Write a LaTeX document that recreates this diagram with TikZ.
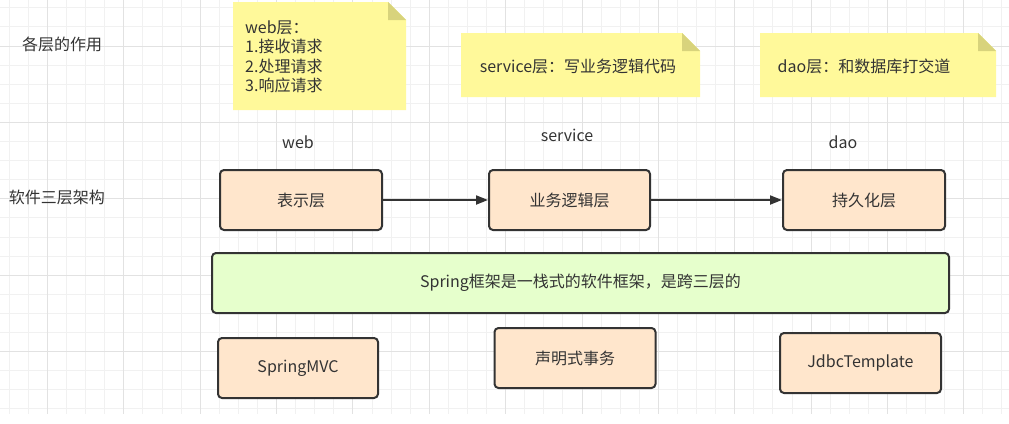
\documentclass[tikz,border=0pt]{standalone}
\usepackage{fontspec}
\setmainfont{Noto Sans CJK SC}
\usetikzlibrary{arrows.meta}
\definecolor{txt}{HTML}{333333}
\definecolor{edge}{HTML}{333333}
\definecolor{gridminor}{HTML}{F1F1F1}
\definecolor{gridmajor}{HTML}{E2E2E2}
\definecolor{notefill}{HTML}{FFF99A}
\definecolor{foldfill}{HTML}{D8D37C}
\definecolor{peach}{HTML}{FFE6CC}
\definecolor{lime}{HTML}{E6FFCC}
\tikzset{
  lbl/.style={inner sep=0pt, text=txt, font=\fontsize{16}{19.5}\selectfont},
  layerbox/.style={draw=edge, line width=2pt, rounded corners=4pt, fill=peach,
    text=txt, font=\fontsize{16}{19.5}\selectfont, inner sep=0pt},
  springbox/.style={layerbox, fill=lime},
  arr/.style={draw=edge, line width=2pt, -{Triangle[length=12pt,width=9pt]}},
  gminor/.style={draw=gridminor, line width=1pt},
  gmajor/.style={draw=gridmajor, line width=1pt},
}
\begin{document}
\begin{tikzpicture}[x=1pt,y=-1pt]
\useasboundingbox (0,0) rectangle (1009,423);
% grid
\foreach \k in {0,...,52} \draw[gminor] ({9.3+19.09*\k},0) -- ({9.3+19.09*\k},414);
\foreach \m in {0,...,21} \draw[gminor] (0,{7.8+19.1*\m}) -- (1009,{7.8+19.1*\m});
\foreach \k in {2,6,...,50} \draw[gmajor] ({9.3+19.09*\k},0) -- ({9.3+19.09*\k},414);
\foreach \m in {2,6,...,18} \draw[gmajor] (0,{7.8+19.1*\m}) -- (1009,{7.8+19.1*\m});
% notes
\fill[notefill] (233,2) -- (388,2) -- (406,20) -- (406,110) -- (233,110) -- cycle;
\fill[foldfill] (388,2) -- (388,20) -- (406,20) -- cycle;
\fill[notefill] (461,33) -- (682,33) -- (700,51) -- (700,97) -- (461,97) -- cycle;
\fill[foldfill] (682,33) -- (682,51) -- (700,51) -- cycle;
\fill[notefill] (760,33) -- (978,33) -- (996,51) -- (996,97) -- (760,97) -- cycle;
\fill[foldfill] (978,33) -- (978,51) -- (996,51) -- cycle;
\node[lbl, anchor=west, align=left] (webnote) at (245,57) {web层：\\1.接收请求\\2.处理请求\\3.响应请求};
\node[lbl] (servicenote) at (578,66) {service层：写业务逻辑代码};
\node[lbl] (daonote) at (864,66) {dao层：和数据库打交道};
% left labels
\node[lbl] (role) at (62,44) {各层的作用};
\node[lbl] (arch) at (57,197) {软件三层架构};
% column labels
\node[lbl] (webl) at (298,142) {web};
\node[lbl] (servicel) at (567,135) {service};
\node[lbl] (daol) at (843,142) {dao};
% layer boxes
\node[layerbox, minimum width=162, minimum height=60] (b1) at (301,200) {表示层};
\node[layerbox, minimum width=161, minimum height=60] (b2) at (569.5,200) {业务逻辑层};
\node[layerbox, minimum width=162, minimum height=60] (b3) at (864,200) {持久化层};
\draw[arr] (b1) -- (b2);
\draw[arr] (b2) -- (b3);
% spring
\node[springbox, minimum width=737, minimum height=60] (spring) at (580.5,283) {Spring框架是一栈式的软件框架，是跨三层的};
% frameworks
\node[layerbox, minimum width=160, minimum height=60] (mvc) at (298,368) {SpringMVC};
\node[layerbox, minimum width=161, minimum height=60] (tx) at (575,358) {声明式事务};
\node[layerbox, minimum width=161, minimum height=60] (jdbc) at (860.5,363) {JdbcTemplate};
\end{tikzpicture}
\end{document}
